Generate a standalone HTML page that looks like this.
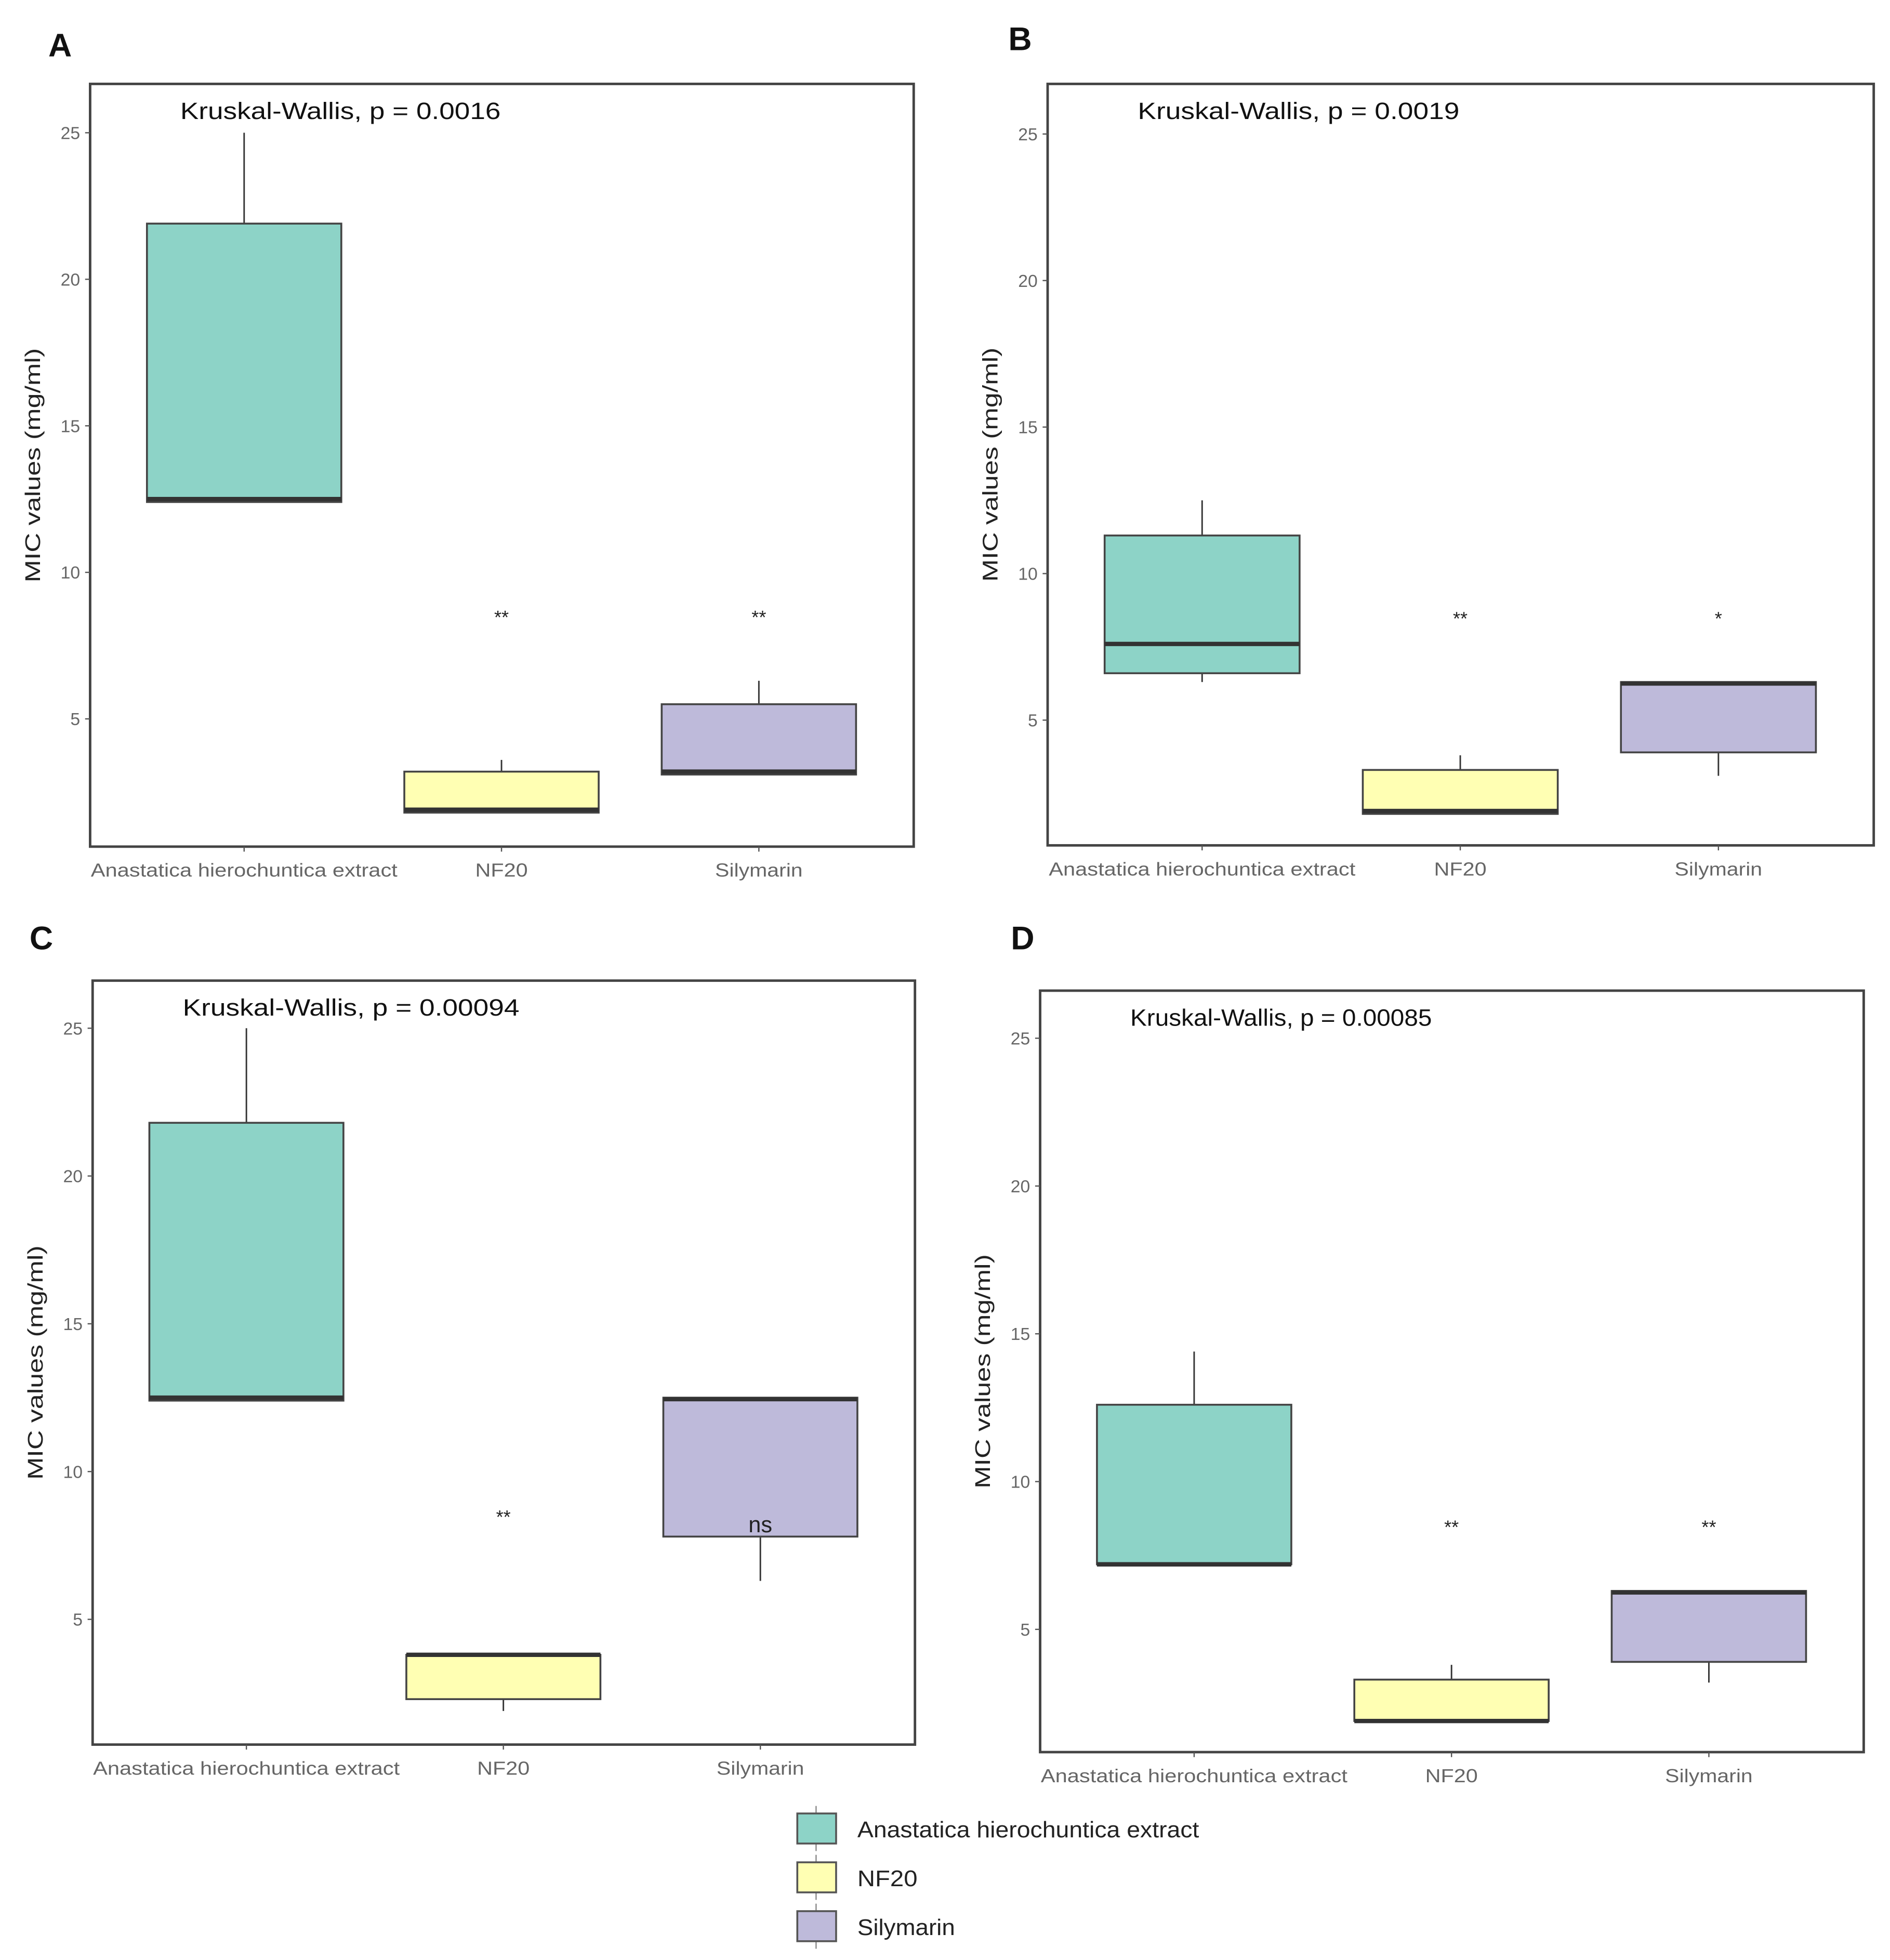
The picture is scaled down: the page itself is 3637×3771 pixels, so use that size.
<!DOCTYPE html>
<html><head><meta charset="utf-8"><style>
html,body{margin:0;padding:0;background:#fff}
svg{display:block}
text{font-family:"Liberation Sans",sans-serif}
</style></head><body>
<svg id="fig" width="3637" height="3771" viewBox="0 0 1510 1565" preserveAspectRatio="none" xmlns="http://www.w3.org/2000/svg"></svg>
<script>
const categories = ["Anastatica hierochuntica extract","NF20","Silymarin"];
const colors = ["#8dd3c7","#ffffb3","#bebada"];
const yTicks = [5,10,15,20,25];
const panelLetters = ["A","B","C","D"];
const pvalues = ["Kruskal-Wallis, p = 0.0016","Kruskal-Wallis, p = 0.0019","Kruskal-Wallis, p = 0.00094","Kruskal-Wallis, p = 0.00085"];
// [min, q1, median, q3, max] for each category
const statsA = [[12.4,12.4,12.5,21.9,25],[1.8,1.8,1.9,3.2,3.6],[3.1,3.1,3.2,5.5,6.3]];
const statsB = [[6.3,6.6,7.6,11.3,12.5],[1.8,1.8,1.9,3.3,3.8],[3.1,3.9,6.25,6.3,6.3]];
const statsC = [[12.4,12.4,12.5,21.8,25],[1.9,2.3,3.8,3.8,3.8],[6.3,7.8,12.45,12.5,12.5]];
const statsD = [[7.2,7.2,7.2,12.6,14.4],[1.9,1.9,1.9,3.3,3.8],[3.2,3.9,6.25,6.3,6.3]];
const sigA = ["","**","**"], sigB = ["","**","*"], sigC = ["","**","ns"], sigD = ["","**","**"];
const sigYC = [8.5,8.5,8.2];

const kwWidths = [256,257,269,241];
const xlabWidths = [245,42,70];
const legWidths = [273,48,78];

const panels = [
 {x0:72,x1:730,y0:67,y1:676,zero:691,per5:117,letter:[48,45],stats:statsA,sig:sigA,sy:[8.5,8.5,8.5]},
 {x0:837,x1:1497,y0:67,y1:675,zero:692,per5:117,letter:[815,40],stats:statsB,sig:sigB,sy:[8.5,8.5,8.5]},
 {x0:74,x1:731,y0:783,y1:1393,zero:1411,per5:118,letter:[33,758],stats:statsC,sig:sigC,sy:sigYC},
 {x0:831,x1:1489,y0:791,y1:1399,zero:1419,per5:118,letter:[817,758],stats:statsD,sig:sigD,sy:[8.5,8.5,8.5]}
];
const svg = document.getElementById('fig');
const NS = "http://www.w3.org/2000/svg";
function mk(tag, attrs, parent){const e=document.createElementNS(NS,tag);for(const k in attrs)e.setAttribute(k,attrs[k]);(parent||svg).appendChild(e);return e;}

panels.forEach((p,pi)=>{
  const g = mk('g',{});
  
  
  const Y = v => p.zero - v*p.per5/5;
  const w = p.x1-p.x0;
  const X = i => p.x0 + w*(0.187 + i*0.3125);
  const bw = w*0.236;
  const L = mk('text',{x:p.letter[0],y:p.letter[1],'font-size':26,'font-weight':'bold','text-anchor':'middle',fill:'#111'},g);
  L.textContent = panelLetters[pi];
  
  
  const fr = mk('rect',{x:p.x0,y:p.y0,width:w,height:p.y1-p.y0,fill:'none',stroke:'#444','stroke-width':2},g);
  
  
  yTicks.forEach(t=>{
    mk('line',{x1:p.x0-4,x2:p.x0,y1:Y(t),y2:Y(t),stroke:'#555','stroke-width':1},g);
    const tt = mk('text',{x:p.x0-8,y:Y(t)+5,'font-size':14,'text-anchor':'end',fill:'#666'},g);
    tt.textContent = t;
    
    
  });
  const yc=(p.y0+p.y1)/2, yx=p.x0-40;
  const yt = mk('text',{x:yx,y:yc,'font-size':17,'text-anchor':'middle',textLength:187,lengthAdjust:'spacingAndGlyphs',fill:'#222',transform:`rotate(-90 ${yx} ${yc})`},g);
  yt.textContent = 'MIC values (mg/ml)';
  
  
  const kt = mk('text',{x:p.x0+72,y:p.y0+28,'font-size':19,textLength:kwWidths[pi],lengthAdjust:'spacingAndGlyphs',fill:'#111'},g);
  kt.textContent = pvalues[pi];
  
  
  categories.forEach((c,i)=>{
    const s = p.stats[i], cx = X(i);
    mk('line',{x1:cx,x2:cx,y1:Y(s[4]),y2:Y(s[3]),stroke:'#333','stroke-width':1.2},g);
    mk('line',{x1:cx,x2:cx,y1:Y(s[1]),y2:Y(s[0]),stroke:'#333','stroke-width':1.2},g);
    mk('line',{x1:cx,x2:cx,y1:p.y1,y2:p.y1+4,stroke:'#555'},g);
    const b = mk('rect',{x:cx-bw/2,y:Y(s[3]),width:bw,height:Math.max(1,Y(s[1])-Y(s[3])),fill:colors[i],stroke:'#444','stroke-width':1.5},g);
    
    
    mk('line',{x1:cx-bw/2,x2:cx+bw/2,y1:Y(s[2]),y2:Y(s[2]),stroke:'#333','stroke-width':3.5},g);
    const xl = mk('text',{x:cx,y:p.y1+24,'font-size':15,'text-anchor':'middle',textLength:xlabWidths[i],lengthAdjust:'spacingAndGlyphs',fill:'#666'},g);
    xl.textContent = c;
    
    
    if(p.sig[i]){
      const st = mk('text',{x:cx,y:Y(p.sy[i])+6,'font-size':p.sig[i]==='ns'?18:15,'text-anchor':'middle',fill:'#222'},g);
      st.textContent = p.sig[i];
      
      
    }
  });
});
const lg = mk('g',{});


const ly=[1460,1499,1538];
categories.forEach((c,i)=>{
  mk('line',{x1:652,x2:652,y1:ly[i]-18,y2:ly[i]+18,stroke:'#888'},lg);
  const r = mk('rect',{x:637,y:ly[i]-12,width:31,height:24,fill:colors[i],stroke:'#555','stroke-width':1.5},lg);
  
  
  const t = mk('text',{x:685,y:ly[i]+7,'font-size':18,textLength:legWidths[i],lengthAdjust:'spacingAndGlyphs',fill:'#222'},lg);
  t.textContent = c;
  
  
});
</script>
</body></html>
